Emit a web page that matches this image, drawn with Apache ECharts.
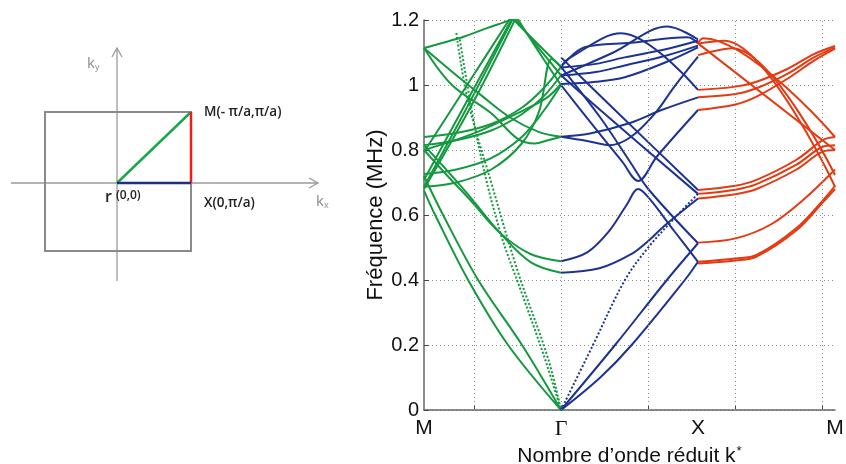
<!DOCTYPE html>
<html>
<head>
<meta charset="utf-8">
<script src="https://cdn.jsdelivr.net/npm/echarts@6/dist/echarts.min.js"></script>
<style>
  html, body { margin: 0; padding: 0; background: #fff; }
  #main { width: 846px; height: 464px; }
</style>
</head>
<body>
<div id="main"></div>
<script>
// k path: M = -pi/2, Gamma = 0, X = pi/2, M = pi
const xTickPos = [-1.5707, 0, 1.5708, 3.1415]
const xTickNames = ['M', 'Γ', 'X', 'M']
const xGridPos = [-1, 0, 1, 2, 3]

// ---- M -> Gamma (green) ----
const gArcTop = [[-1.571,1.114],[-1.35,1.13],[-1.1,1.15],[-0.85,1.175],[-0.6,1.198],[-0.55,1.205]]
const gApexA = [[-0.56,1.205],[-0.28,1.13],[0,1.056]]
const gApexB = [[-0.53,1.205],[-0.26,1.115],[0,1.03]]
const gApexC = [[-0.5,1.205],[-0.25,1.1],[0,1.0]]
const gRiseA = [[-1.571,0.794],[-1.1,0.99],[-0.584,1.205]]
const gRiseB = [[-1.571,0.708],[-1.1,0.94],[-0.56,1.205]]
const gRiseC = [[-1.571,0.687],[-1.1,0.92],[-0.55,1.205]]
const gRiseD = [[-1.571,0.68],[-1.0,0.95],[-0.52,1.205]]
const gCurveA = [[-1.571,0.84],[-1.2,0.852],[-0.8,0.88],[-0.45,0.93],[-0.2,0.99],[0,1.056]]
const gCurveB = [[-1.571,0.815],[-1.2,0.83],[-0.8,0.86],[-0.45,0.91],[-0.2,0.965],[0,1.03]]
const gCurveC = [[-1.571,0.80],[-1.0,0.851],[-0.424,0.923],[-0.157,0.962],[0,1.003]]
const gCurveD = [[-1.571,0.726],[-1.2,0.74],[-0.8,0.775],[-0.45,0.84],[-0.2,0.92],[0,1.0]]
const gCurveE = [[-1.571,0.687],[-1.2,0.70],[-0.8,0.74],[-0.45,0.82],[-0.25,0.92],[-0.107,1.08],[0,1.056]]
const gDownA = [[-1.571,1.114],[-1.2,1.03],[-0.9,0.965],[-0.584,0.9],[-0.25,0.855],[0,0.841]]
const gDownB = [[-1.571,1.114],[-1.25,1.0],[-0.8,0.913],[-0.5,0.835],[-0.3,0.82],[-0.15,0.83],[0,0.841]]
const gLowA = [[-1.571,0.80],[-1.3,0.72],[-1.04,0.646],[-0.7,0.545],[-0.35,0.48],[0,0.458]]
const gLowB = [[-1.571,0.815],[-1.3,0.735],[-1.04,0.655],[-0.7,0.545],[-0.35,0.455],[0,0.422]]
const gAcA = [[-1.571,0.675],[-1.443,0.6],[-1.065,0.4],[-0.607,0.2],[0,0]]
const gAcB = [[-1.571,0.72],[-1.352,0.6],[-0.95,0.4],[-0.447,0.2],[0,0]]
const gDotA = [[-1.16,1.14],[-0.95,0.82],[-0.7,0.55],[-0.45,0.36],[-0.2,0.17],[0,0]]
const gDotB = [[-1.2,1.16],[-1.07,0.954],[-0.8,0.7],[-0.5,0.43],[-0.15,0.16],[0,0]]

// ---- Gamma -> X (blue) ----
const bDot = [[0,0],[0.367,0.2],[0.733,0.4],[1.0,0.5],[1.3,0.59],[1.571,0.665]]
const bAcA = [[0,0],[0.62,0.2],[1.214,0.4],[1.571,0.513]]
const bAcB = [[0,0],[0.45,0.1],[0.81,0.2],[1.42,0.4],[1.571,0.456]]
const bLowA = [[0,0.4225],[0.44,0.436],[0.82,0.482],[1.0,0.52],[1.2,0.57],[1.571,0.651]]
const bLowB = [[0,0.458],[0.3,0.485],[0.55,0.55],[0.75,0.63],[0.885,0.68],[1.0,0.655],[1.3,0.55],[1.571,0.456]]
const bV = [[0,1.0],[0.332,0.887],[0.7,0.765],[0.885,0.705],[1.1,0.78],[1.571,0.923]]
const bDownA = [[0,1.056],[0.45,0.9],[0.8,0.76],[1.0,0.68],[1.571,0.513]]
const bDownB = [[0,1.085],[0.618,0.923],[1.571,0.677]]
const bDownC = [[0,1.03],[0.45,0.923],[1.571,0.665]]
const bMidA = [[0,0.841],[0.332,0.851],[0.8,0.884],[1.153,0.923],[1.571,0.962]]
const bMidB = [[0,0.841],[0.3,0.828],[0.56,0.815],[0.8,0.84],[1.073,0.911],[1.3,0.995],[1.571,1.087]]
const bTopA = [[0,1.054],[0.4,1.065],[0.73,1.085],[1.2,1.11],[1.571,1.136]]
const bTopB = [[0,1.029],[0.4,1.04],[0.73,1.06],[1.2,1.09],[1.571,1.121]]
const bTopC = [[0,1.003],[0.4,1.01],[0.73,1.024],[1.2,1.07],[1.571,1.116]]
const bPeakA = [[0,1.056],[0.08,1.08],[0.69,1.159],[1.571,0.985]]
const bPeakB = [[0,1.029],[0.6,1.1],[1.22,1.18],[1.571,1.14]]
const bKink = [[0,1.056],[0.27,1.116],[0.8,1.13],[1.45,1.147],[1.571,1.128]]

// ---- X -> M (red) ----
const rTopA = [[1.571,1.13],[1.63,1.144],[3.142,0.84]]
const rTopB = [[1.571,1.128],[3.142,0.80]]
const rTopC = [[1.571,1.128],[1.87,1.136],[3.142,0.687]]
const rTopD = [[1.571,1.092],[1.96,1.113],[3.142,0.723]]
const rUpA = [[1.571,0.985],[2.0,0.995],[2.242,1.01],[2.6,1.05],[2.9,1.095],[3.142,1.12]]
const rUpB = [[1.571,0.962],[2.0,0.972],[2.242,0.99],[2.6,1.035],[2.9,1.085],[3.142,1.115]]
const rUpC = [[1.571,0.923],[2.0,0.94],[2.242,0.964],[2.6,1.02],[2.9,1.075],[3.142,1.112]]
const rLowA = [[1.571,0.677],[2.0,0.69],[2.242,0.708],[2.7,0.77],[3.005,0.831],[3.142,0.84]]
const rLowB = [[1.571,0.665],[2.0,0.678],[2.242,0.695],[2.7,0.755],[3.0,0.81],[3.142,0.815]]
const rLowC = [[1.571,0.651],[2.0,0.664],[2.242,0.68],[2.7,0.74],[3.0,0.795],[3.142,0.80]]
const rBotA = [[1.571,0.515],[2.0,0.528],[2.4,0.57],[2.775,0.646],[3.142,0.74]]
const rBotB = [[1.571,0.456],[2.0,0.466],[2.242,0.477],[2.7,0.56],[3.005,0.646],[3.142,0.69]]
const rBotC = [[1.571,0.451],[2.0,0.46],[2.242,0.472],[2.7,0.553],[3.005,0.64],[3.142,0.68]]

const GREEN = '#14993f'
const BLUE = '#1d3391'
const RED = '#e43a12'

const greenSolid = [gArcTop, gApexA, gApexB, gApexC, gRiseA, gRiseB, gRiseC, gRiseD,
    gCurveA, gCurveB, gCurveC, gCurveD, gCurveE, gDownA, gDownB, gLowA, gLowB, gAcA, gAcB]
const greenDotted = [gDotA, gDotB]
const blueSolid = [bAcA, bAcB, bLowA, bLowB, bV, bDownA, bDownB, bDownC, bMidA, bMidB,
    bTopA, bTopB, bTopC, bPeakA, bPeakB, bKink]
const blueDotted = [bDot]
const redSolid = [rTopA, rTopB, rTopC, rTopD, rUpA, rUpB, rUpC, rLowA, rLowB, rLowC, rBotA, rBotB, rBotC]

function branch(data, color, dotted) {
    return {
        type: 'line',
        data: data,
        showSymbol: false,
        smooth: 0.35,
        silent: true,
        z: 3,
        lineStyle: { color: color, width: 2, type: dotted ? [2, 2] : 'solid' }
    }
}

const series = []
// vertical dotted grid lines (MATLAB style)
series.push({
    type: 'line',
    data: [],
    silent: true,
    z: 1,
    markLine: {
        silent: true,
        symbol: ['none', 'none'],
        label: { show: false },
        lineStyle: { type: [1, 3], color: '#8a8a8a', width: 1 },
        data: xGridPos.map(v => ({ xAxis: v }))
    }
})
greenSolid.forEach(d => series.push(branch(d, GREEN, false)))
greenDotted.forEach(d => series.push(branch(d, GREEN, true)))
blueSolid.forEach(d => series.push(branch(d, BLUE, false)))
blueDotted.forEach(d => series.push(branch(d, BLUE, true)))
redSolid.forEach(d => series.push(branch(d, RED, false)))

// schematic of the Brillouin zone (left)
const gray = '#9a9a9a'
const inset = [
    { type: 'line', shape: { x1: 117, y1: 281, x2: 117, y2: 48 }, style: { stroke: gray, lineWidth: 1.3 } },
    { type: 'polyline', shape: { points: [[112, 57], [117, 48], [122, 57]] }, style: { stroke: gray, lineWidth: 1.3, fill: null } },
    { type: 'line', shape: { x1: 11, y1: 183, x2: 318, y2: 183 }, style: { stroke: gray, lineWidth: 1.3 } },
    { type: 'polyline', shape: { points: [[309, 178], [318, 183], [309, 188]] }, style: { stroke: gray, lineWidth: 1.3, fill: null } },
    { type: 'rect', shape: { x: 45, y: 112, width: 146, height: 139 }, style: { stroke: '#8a8a8a', lineWidth: 2, fill: null } },
    { type: 'line', shape: { x1: 117, y1: 183, x2: 191, y2: 112 }, style: { stroke: '#1aa84a', lineWidth: 2.5 } },
    { type: 'line', shape: { x1: 191, y1: 112, x2: 191, y2: 183 }, style: { stroke: '#ee1c1c', lineWidth: 2.5 } },
    { type: 'line', shape: { x1: 117, y1: 183, x2: 191, y2: 183 }, style: { stroke: '#1f2f7a', lineWidth: 2.5 } },
    { type: 'text', x: 87, y: 55, style: { text: '{k|k}{s|y}', fill: '#8a8a8a', rich: { k: { fontSize: 15, fontFamily: 'Open Sans' }, s: { fontSize: 9, fontFamily: 'Open Sans', padding: [8, 0, 0, 0] } } } },
    { type: 'text', x: 316, y: 193, style: { text: '{k|k}{s|x}', fill: '#8a8a8a', rich: { k: { fontSize: 15, fontFamily: 'Open Sans' }, s: { fontSize: 9, fontFamily: 'Open Sans', padding: [8, 0, 0, 0] } } } },
    { type: 'text', x: 204, y: 105, style: { text: 'M(- π/a,π/a)', fill: '#222', font: '600 13.5px "Open Sans"' } },
    { type: 'text', x: 204, y: 196, style: { text: 'X(0,π/a)', fill: '#222', font: '600 13.5px "Open Sans"' } },
    { type: 'text', x: 105, y: 189, style: { text: 'r', fill: '#222', font: '600 16px "Open Sans"' } },
    { type: 'text', x: 116, y: 190, style: { text: '(0,0)', fill: '#222', font: '600 12px "Open Sans"' } }
]

const chart = echarts.init(document.getElementById('main'))
chart.setOption({
    animation: false,
    backgroundColor: '#fff',
    textStyle: { fontFamily: 'Liberation Sans' },
    grid: { left: 424, right: 11, top: 20, bottom: 54, outerBoundsMode: 'none', containLabel: false },
    xAxis: {
        type: 'value',
        min: -Math.PI / 2,
        max: Math.PI,
        name: 'Nombre d’onde réduit k{sup|*}',
        nameLocation: 'middle',
        nameGap: 33,
        nameTextStyle: {
            fontSize: 21, color: '#111',
            rich: { sup: { fontSize: 13, verticalAlign: 'top', padding: [0, 0, 10, 1] } }
        },
        axisLine: { show: true, onZero: false, lineStyle: { color: '#666', width: 1.5 } },
        axisTick: { show: true, inside: true, length: 5, customValues: xGridPos, lineStyle: { color: '#444' } },
        axisLabel: {
            customValues: xTickPos,
            showMinLabel: true,
            showMaxLabel: true,
            margin: 8,
            fontSize: 21,
            color: '#111',
            formatter: function (v) {
                let best = 0
                xTickPos.forEach((p, i) => { if (Math.abs(p - v) < Math.abs(xTickPos[best] - v)) best = i })
                const name = xTickNames[best]
                return name === 'Γ' ? '{g|Γ}' : name
            },
            rich: { g: { fontFamily: 'Liberation Serif', fontSize: 22, color: '#111' } }
        },
        splitLine: { show: false }
    },
    yAxis: {
        type: 'value',
        min: 0,
        max: 1.2,
        interval: 0.2,
        name: 'Fréquence (MHz)',
        nameLocation: 'middle',
        nameGap: 36,
        nameTextStyle: { fontSize: 22, color: '#111' },
        axisLine: { show: true, onZero: false, lineStyle: { color: '#666', width: 1.5 } },
        axisTick: { show: true, inside: true, length: 5, lineStyle: { color: '#444' } },
        axisLabel: { fontSize: 20, color: '#111', margin: 5 },
        splitLine: { show: true, lineStyle: { type: [1, 3], color: '#8a8a8a', width: 1 } }
    },
    graphic: inset,
    series: series
})
</script>
</body>
</html>
